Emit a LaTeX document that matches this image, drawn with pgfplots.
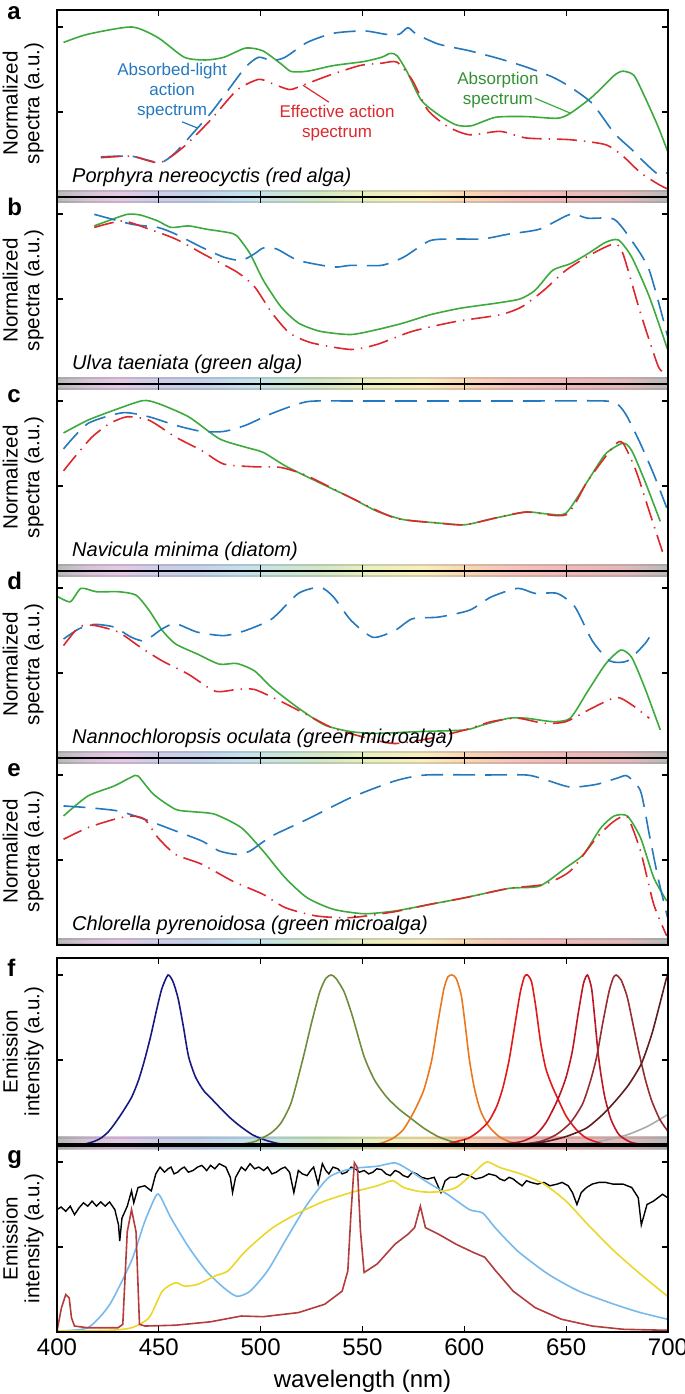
\documentclass[border=0pt]{standalone}
\usepackage{fontspec}
\setmainfont{Liberation Sans}
\usepackage{pgfplots}
\pgfplotsset{compat=1.18}

\definecolor{cblue}{RGB}{35,120,190}
\definecolor{cred}{RGB}{220,40,45}
\definecolor{cgreen}{RGB}{60,170,60}
\definecolor{fnavy}{RGB}{25,25,130}
\definecolor{folive}{RGB}{110,140,60}
\definecolor{forange}{RGB}{235,120,30}
\definecolor{fred}{RGB}{225,25,25}
\definecolor{fdred}{RGB}{190,20,35}
\definecolor{fbred}{RGB}{150,45,50}
\definecolor{fbrown}{RGB}{95,30,30}
\definecolor{fgrey}{RGB}{170,170,170}
\definecolor{gsky}{RGB}{120,185,235}
\definecolor{gyellow}{RGB}{235,215,40}
\definecolor{gbrown}{RGB}{180,60,60}

% pastel spectrum strip (400 nm at 25bp, 700 nm at 75bp)
\definecolor{sb0}{RGB}{185,185,185}
\definecolor{sb1}{RGB}{215,195,215}
\definecolor{sb2}{RGB}{230,200,230}
\definecolor{sb3}{RGB}{205,205,235}
\definecolor{sb4}{RGB}{195,210,235}
\definecolor{sb5}{RGB}{195,225,240}
\definecolor{sb6}{RGB}{200,230,220}
\definecolor{sb7}{RGB}{210,232,195}
\definecolor{sb8}{RGB}{235,240,190}
\definecolor{sb9}{RGB}{250,238,190}
\definecolor{sb10}{RGB}{250,215,180}
\definecolor{sb11}{RGB}{245,195,185}
\definecolor{sb12}{RGB}{240,185,185}
\definecolor{sb13}{RGB}{225,185,185}
\pgfdeclarehorizontalshading{specbar}{100bp}{color(0bp)=(sb0); color(25bp)=(sb0);
  color(27.5bp)=(sb1); color(30bp)=(sb2); color(33.33bp)=(sb3); color(36.67bp)=(sb4);
  color(40bp)=(sb5); color(43.33bp)=(sb6); color(46.67bp)=(sb7); color(50.83bp)=(sb8);
  color(55bp)=(sb9); color(58.33bp)=(sb10); color(62.5bp)=(sb11); color(66.67bp)=(sb12);
  color(71.67bp)=(sb13); color(75bp)=(sb0); color(100bp)=(sb0)}

\newcommand{\specbar}[2]{%
  \shade[shading=specbar] (axis cs:400,#1) rectangle (axis cs:700,#2);
  \fill[gray,opacity=0.3] (axis cs:400,#1) rectangle (axis cs:700,{#1+0.013});
  \fill[gray,opacity=0.3] (axis cs:400,{#2-0.013}) rectangle (axis cs:700,#2);}

\tikzset{
  absorp/.style={cgreen, line width=0.8pt, smooth, tension=0.4},
  alas/.style={cblue, line width=0.8pt, smooth, tension=0.4, dash pattern=on 11pt off 5pt},
  eas/.style={cred, line width=0.8pt, smooth, tension=0.4, dash pattern=on 10pt off 3.5pt on 0.7pt off 3.5pt},
  emis/.style={line width=0.8pt, smooth, tension=0.4},
  species/.style={anchor=base west, font=\itshape\fontsize{10}{12}\selectfont},
  plabel/.style={anchor=base west, inner sep=0pt, font=\bfseries\fontsize{12}{14}\selectfont, xshift=-25pt, yshift=-9.5pt},
  annot/.style={align=center, font=\fontsize{8.5}{10}\selectfont},
}

\pgfplotsset{
  panel/.style={
    scale only axis, width=305.5pt, height=93.5pt, anchor=south west,
    xmin=400, xmax=700, ymin=0, ymax=1.1,
    xtick={450,500,550,600,650}, xticklabels={},
    ytick={0.5,1}, yticklabels={},
    tick align=inside, tick pos=both, major tick length=3pt,
    clip=false, axis on top,
    axis line style={line width=0.8pt},
    every tick/.style={black, line width=0.6pt},
    ylabel style={at={(rel axis cs:-0.0213,0.5)}, anchor=south, align=center, inner sep=0pt,
      font=\fontsize{10.3}{10.8}\selectfont},
  },
}

\begin{document}
\begin{tikzpicture}

% ---------- a ----------
\begin{axis}[panel, at={(0pt,567.5pt)}, ylabel={Normalized\\spectra (a.u.)}]
\specbar{-0.035}{0.04}
\addplot[absorp] coordinates {(403.2,0.909)(415,0.957)(436.6,1.0)(449.5,0.938)(462.5,0.822)(473,0.806)(482,0.822)(492.6,0.876)(501,0.860)(510,0.783)(515,0.738)(523,0.740)(535.7,0.773)(550.8,0.797)(559.4,0.822)(563.7,0.845)(567,0.831)(572,0.734)(578.8,0.570)(587.4,0.483)(596,0.424)(603.5,0.419)(615.4,0.469)(630.5,0.473)(645.6,0.463)(652,0.492)(662.8,0.589)(673.6,0.715)(677.9,0.740)(683.3,0.715)(688.6,0.589)(695.1,0.415)(699.8,0.269)};
\addplot[alas] coordinates {(421.5,0.236)(436.6,0.240)(450.6,0.202)(458,0.260)(466.8,0.376)(475.4,0.492)(484,0.628)(492.6,0.764)(499,0.822)(505.6,0.802)(512,0.822)(522.8,0.909)(535.7,0.963)(550.8,0.977)(561.5,0.957)(568,0.957)(572.3,0.996)(576.6,0.957)(587.4,0.899)(602.5,0.860)(617.6,0.812)(630.5,0.764)(643.4,0.705)(652,0.647)(662.8,0.550)(673.6,0.376)(682.2,0.279)(688.6,0.202)(695.1,0.134)(699.8,0.143)};
\addplot[eas] coordinates {(421.5,0.231)(436.6,0.240)(450.6,0.202)(462.5,0.298)(475.4,0.453)(488.3,0.628)(499,0.692)(505.6,0.667)(514.2,0.632)(520.6,0.657)(533.5,0.715)(548.6,0.773)(559.4,0.787)(567,0.793)(574.5,0.686)(582,0.512)(591.7,0.415)(602.5,0.366)(617.6,0.386)(630.5,0.347)(652,0.337)(669.3,0.308)(677.9,0.240)(686.5,0.143)(695.1,0.076)(699.8,0.047)};
\node[annot, cblue] at (axis cs:456.5,0.622) {Absorbed-light\\action\\spectrum};
\draw[cblue, line width=0.6pt] (axis cs:461.4,0.442) -- (axis cs:468.7,0.407);
\node[annot, cred] at (axis cs:537.5,0.436) {Effective action\\spectrum};
\draw[cred, line width=0.6pt] (axis cs:520.8,0.657) -- (axis cs:533.5,0.558);
\node[annot, cgreen!85!black] at (axis cs:616.5,0.628) {Absorption\\spectrum};
\draw[cgreen, line width=0.6pt] (axis cs:634.7,0.581) -- (axis cs:651.9,0.494);
\node[species] at (axis cs:404,0.085) {Porphyra nereocyctis (red alga)};
\node[plabel, yshift=4.5pt] at (rel axis cs:0,1) {a};
\end{axis}

% ---------- b ----------
\begin{axis}[panel, at={(0pt,474pt)}, ylabel={Normalized\\spectra (a.u.)}]
\specbar{-0.035}{0.04}
\addplot[absorp] coordinates {(418.3,0.930)(425.8,0.963)(434.5,0.998)(440.9,0.994)(449.5,0.959)(456,0.921)(464.6,0.930)(473.2,0.911)(484,0.891)(488.3,0.872)(494.8,0.766)(501.3,0.610)(509.9,0.455)(518.5,0.359)(529.2,0.310)(544.3,0.291)(557.2,0.320)(570.2,0.359)(583.1,0.407)(598.2,0.446)(615.4,0.475)(627.3,0.500)(634.8,0.552)(643.4,0.669)(652,0.707)(660.6,0.766)(669.3,0.833)(675.7,0.847)(682.2,0.746)(690.8,0.514)(699.8,0.203)};
\addplot[alas] coordinates {(418.3,0.998)(436.6,0.940)(449.5,0.921)(458.2,0.882)(471.1,0.804)(481.9,0.746)(490.5,0.727)(497,0.766)(501.3,0.800)(507.7,0.795)(518.5,0.727)(535.7,0.688)(544.3,0.698)(559.4,0.698)(570.2,0.746)(583.1,0.843)(596,0.853)(609,0.853)(621.9,0.882)(637,0.911)(652,0.998)(660.6,0.975)(673.5,0.969)(682.2,0.843)(690.8,0.669)(699.8,0.281)};
\addplot[eas] coordinates {(418.3,0.921)(432.3,0.959)(445.2,0.911)(458.2,0.853)(473.2,0.756)(488.3,0.659)(497,0.572)(505.6,0.417)(514.2,0.300)(525,0.242)(544.3,0.203)(557.2,0.233)(574.5,0.310)(596,0.368)(617.6,0.407)(628.4,0.455)(639.1,0.552)(649.9,0.669)(662.8,0.766)(673.6,0.824)(677.9,0.766)(686.5,0.417)(695.1,0.107)(698.3,0.068)};
\node[species] at (axis cs:404,0.085) {Ulva taeniata (green alga)};
\node[plabel] at (rel axis cs:0,1) {b};
\end{axis}

% ---------- c ----------
\begin{axis}[panel, at={(0pt,380.5pt)}, ylabel={Normalized\\spectra (a.u.)}]
\specbar{-0.035}{0.04}
\addplot[absorp] coordinates {(403.2,0.812)(415.1,0.887)(428,0.946)(442,1.002)(449.5,0.986)(464.6,0.907)(479.7,0.778)(492.6,0.728)(501.2,0.698)(512,0.619)(527,0.530)(544.3,0.431)(557.2,0.351)(570.2,0.302)(587.4,0.282)(600.3,0.272)(615.4,0.312)(630.5,0.347)(641.3,0.335)(650,0.341)(660.6,0.530)(669.3,0.688)(677.9,0.752)(682.2,0.708)(688.6,0.530)(696.2,0.292)};
\addplot[alas] coordinates {(403.2,0.718)(415.1,0.867)(432.3,0.931)(445.2,0.907)(458.2,0.857)(471.1,0.821)(481.9,0.821)(492.6,0.857)(505.6,0.927)(522.8,0.996)(544.3,1.0)(587.4,1.0)(630.5,1.0)(669.3,1.0)(675.7,0.976)(680,0.907)(686.5,0.748)(693,0.569)(699.4,0.371)};
\addplot[eas] coordinates {(403.2,0.589)(408.6,0.669)(417.2,0.788)(425.8,0.867)(434.5,0.907)(445.2,0.887)(458.2,0.788)(471.1,0.708)(481.9,0.629)(497,0.613)(509.9,0.609)(522.8,0.560)(544.3,0.431)(565.9,0.312)(587.4,0.282)(600.3,0.272)(615.4,0.312)(630.5,0.347)(650,0.331)(660.6,0.530)(673.6,0.738)(677.9,0.752)(684.3,0.589)(690.8,0.351)(697.3,0.113)};
\node[species] at (axis cs:404,0.085) {Navicula minima (diatom)};
\node[plabel] at (rel axis cs:0,1) {c};
\end{axis}

% ---------- d ----------
\begin{axis}[panel, at={(0pt,287pt)}, ylabel={Normalized\\spectra (a.u.)}]
\specbar{-0.035}{0.04}
\addplot[absorp] coordinates {(400,0.952)(406.5,0.919)(411.8,0.998)(419.4,0.978)(430.2,0.978)(438.8,0.958)(445.2,0.869)(451.7,0.750)(458.2,0.671)(469,0.611)(479.7,0.552)(488.3,0.556)(497,0.512)(505.6,0.413)(518.5,0.294)(531.4,0.194)(544.3,0.155)(557.2,0.145)(576.6,0.155)(600.3,0.165)(609,0.194)(621.9,0.234)(630.5,0.234)(643.4,0.214)(652,0.234)(660.6,0.393)(669.3,0.552)(676.8,0.635)(682.2,0.591)(688.6,0.413)(696.2,0.165)};
\addplot[alas] coordinates {(403.2,0.700)(410.8,0.760)(418.3,0.786)(428,0.770)(436.6,0.710)(443.1,0.690)(451.7,0.760)(458.2,0.790)(469,0.740)(482,0.720)(492.6,0.750)(505.6,0.819)(518.5,0.968)(529.2,1.004)(535.7,0.948)(544.3,0.810)(555.1,0.710)(565.9,0.750)(574.5,0.819)(587.4,0.829)(602.5,0.869)(613.3,0.948)(626.2,0.998)(634.8,0.968)(645.6,0.968)(654.3,0.889)(662.8,0.690)(671.5,0.571)(680.1,0.571)(688.6,0.671)(690.8,0.710)};
\addplot[eas] coordinates {(403.2,0.661)(410.8,0.770)(418.3,0.780)(430.2,0.740)(441,0.651)(451.7,0.571)(464.6,0.492)(477.6,0.393)(488.3,0.403)(497,0.403)(509.9,0.333)(522.8,0.254)(535.7,0.175)(553,0.115)(565.9,0.085)(583.1,0.115)(600.3,0.165)(613.3,0.214)(626.2,0.234)(639.1,0.204)(649.9,0.214)(662.8,0.294)(674.7,0.357)(682.2,0.313)(690.8,0.234)};
\node[species] at (axis cs:404,0.085) {Nannochloropsis oculata (green microalga)};
\node[plabel] at (rel axis cs:0,1) {d};
\end{axis}

% ---------- e ----------
\begin{axis}[panel, at={(0pt,193.5pt)}, ylabel={Normalized\\spectra (a.u.)}]
\specbar{0}{0.04}
\addplot[absorp] coordinates {(403.2,0.759)(415.1,0.876)(428,0.935)(436.6,0.988)(439.8,0.994)(447.4,0.886)(458.2,0.798)(466.8,0.784)(477.5,0.769)(490.5,0.690)(501.2,0.553)(512,0.396)(522.8,0.278)(535.7,0.210)(550.8,0.184)(565.9,0.200)(583.1,0.239)(600.3,0.278)(621.9,0.333)(637,0.347)(649.9,0.455)(658.5,0.533)(667.1,0.690)(673.6,0.759)(680,0.759)(686.5,0.631)(693,0.396)(699.4,0.259)};
\addplot[alas] coordinates {(403.2,0.818)(415.1,0.808)(430.2,0.788)(443.1,0.739)(458.2,0.671)(471.1,0.612)(479.7,0.553)(488.3,0.533)(494.8,0.553)(505.5,0.641)(522.8,0.739)(544.3,0.867)(565.9,0.965)(581,1.0)(609,1.0)(630.5,1.0)(639.1,0.975)(652,0.929)(664.9,0.945)(675.7,0.984)(680,0.994)(686.5,0.906)(690.8,0.651)(695.1,0.396)(699.8,0.161)};
\addplot[eas] coordinates {(403.2,0.622)(415.1,0.690)(428,0.739)(436.6,0.759)(443.1,0.739)(449.6,0.631)(458.2,0.533)(471.1,0.475)(486.2,0.376)(501.2,0.298)(512,0.220)(527.2,0.171)(544.3,0.161)(565.9,0.196)(583.1,0.239)(600.3,0.278)(621.9,0.333)(639.1,0.357)(652,0.435)(664.9,0.631)(673.6,0.729)(680,0.753)(686.5,0.553)(693,0.239)(699.4,0.053)};
\node[species] at (axis cs:404,0.085) {Chlorella pyrenoidosa (green microalga)};
\node[plabel] at (rel axis cs:0,1) {e};
\end{axis}

% ---------- f ----------
\begin{axis}[panel, at={(0pt,93.5pt)}, ylabel={Emission\\intensity (a.u.)}]
\specbar{-0.025}{0.05}
\addplot[emis, fgrey] coordinates {(645,0)(660,0.01)(670,0.03)(680,0.06)(690,0.11)(700,0.18)};
\addplot[emis, fnavy] coordinates {(412,0)(418,0.02)(421.5,0.04)(425,0.075)(428,0.12)(432,0.19)(436.6,0.28)(440,0.38)(443,0.5)(446,0.64)(449,0.8)(451.5,0.92)(454.5,1.0)(457,0.96)(459.5,0.86)(462,0.7)(464.6,0.52)(468,0.4)(472,0.32)(476,0.27)(480,0.22)(485,0.16)(490,0.11)(496,0.06)(502,0.03)(508,0.01)(514,0)};
\addplot[emis, folive] coordinates {(488,0)(497,0.02)(505,0.07)(510,0.13)(515,0.25)(520.6,0.5)(525,0.72)(529,0.9)(532,0.98)(534.6,1.0)(537,0.98)(541,0.9)(545,0.76)(550.8,0.52)(556,0.38)(562,0.28)(568,0.21)(573.4,0.16)(580,0.1)(587,0.05)(594,0.02)(600,0.005)};
\addplot[emis, forange] coordinates {(552,0)(559,0.01)(565,0.04)(570,0.09)(575,0.19)(580,0.32)(584,0.5)(587,0.72)(590,0.92)(592,0.99)(594,1.0)(596,0.98)(598.5,0.88)(600.5,0.7)(602.5,0.5)(605,0.33)(608,0.2)(612,0.11)(617,0.05)(622,0.02)(628,0)};
\addplot[emis, fred] coordinates {(590,0)(596,0.02)(602,0.04)(607,0.08)(612,0.14)(616,0.23)(619,0.34)(622,0.5)(625,0.72)(627.5,0.9)(629.5,0.99)(631,1.0)(633,0.96)(635,0.82)(637.5,0.6)(640,0.45)(643,0.35)(646,0.27)(650,0.17)(655,0.09)(660,0.04)(667,0.01)(672,0)};
\addplot[emis, fdred] coordinates {(615,0)(628,0.02)(635,0.06)(640,0.13)(644,0.22)(647,0.3)(650,0.4)(653,0.55)(656,0.78)(658.5,0.95)(660.5,1.0)(662.5,0.92)(664,0.75)(665.6,0.55)(667,0.42)(669,0.28)(672,0.15)(676,0.06)(682,0.015)(690,0)};
\addplot[emis, fbred] coordinates {(625,0)(637,0.02)(645,0.06)(652,0.13)(658,0.24)(662,0.38)(665,0.52)(668,0.72)(671,0.9)(673,0.98)(674.5,1.0)(677,0.97)(680,0.87)(683,0.7)(686,0.53)(689,0.38)(692,0.26)(696,0.15)(700,0.08)};
\addplot[emis, fbrown] coordinates {(630,0)(640,0.02)(650,0.05)(660,0.1)(668,0.18)(675,0.27)(681,0.36)(687,0.48)(692,0.65)(696,0.83)(699,0.97)(700,1.0)};
\node[plabel] at (rel axis cs:0,1) {f};
\end{axis}

% ---------- g ----------
\begin{axis}[panel, at={(0pt,0pt)}, ylabel={Emission\\intensity (a.u.)},
  xtick={400,450,500,550,600,650,700}, xticklabels={400,450,500,550,600,650,700},
  xticklabel style={font=\fontsize{12}{14}\selectfont},
  xlabel={wavelength (nm)}, xlabel style={font=\fontsize{12}{14}\selectfont}]
\addplot[black, line width=0.7pt] coordinates {(400,0.72)(402,0.735)(404.3,0.71)(406.5,0.74)(408.6,0.69)(410.8,0.73)(413,0.76)(415.1,0.74)(417.2,0.77)(419.4,0.74)(421.5,0.765)(423.7,0.74)(425.8,0.765)(428.4,0.72)(430.2,0.63)(430.8,0.535)(431.9,0.67)(434.5,0.74)(436.6,0.83)(437.7,0.76)(439.8,0.85)(443.1,0.86)(446.3,0.83)(448.5,0.93)(450.6,0.97)(452.8,0.94)(454.5,0.96)(456,0.97)(457.5,0.93)(459.2,0.94)(461,0.96)(462.5,0.97)(464.5,0.94)(466.8,0.95)(469,0.97)(471.1,0.98)(473.5,0.95)(475.4,0.98)(477.5,0.96)(479.7,0.99)(482.9,0.97)(485.1,0.91)(486.2,0.82)(487.7,0.91)(490.5,0.97)(492.5,0.95)(494.8,0.99)(497,0.96)(499.1,0.97)(501.5,0.95)(503.4,0.97)(505.5,0.93)(507.7,0.94)(510,0.96)(512,0.97)(514.2,0.94)(516.3,0.82)(518.5,0.95)(520.5,0.93)(522.8,0.92)(524.5,0.95)(526,0.97)(528.2,0.87)(530.3,0.99)(532,0.95)(533.5,0.93)(535.5,0.97)(537.9,0.96)(540,0.93)(542.2,0.94)(544.5,0.97)(546.5,0.96)(548.5,0.94)(550.8,0.95)(553,0.93)(555.1,0.94)(557,0.96)(559.4,0.955)(561.5,0.93)(563.7,0.92)(566,0.95)(568,0.94)(570,0.92)(572.3,0.91)(574.5,0.94)(576.6,0.93)(579,0.91)(582,0.90)(585.2,0.91)(588.5,0.82)(590.6,0.89)(593,0.91)(596,0.91)(599,0.93)(602.5,0.92)(605.5,0.90)(608.9,0.91)(612,0.93)(615.4,0.92)(617.5,0.90)(619.7,0.89)(622,0.91)(624,0.90)(626,0.88)(628.4,0.86)(630.5,0.89)(632.7,0.88)(636,0.87)(639.1,0.88)(642,0.86)(645.6,0.87)(648,0.88)(651,0.86)(653.1,0.82)(655.3,0.75)(657.4,0.82)(660,0.85)(662.8,0.87)(666,0.88)(669.3,0.88)(673,0.87)(677.9,0.87)(682.2,0.85)(685.4,0.79)(686.9,0.63)(689.7,0.75)(692.9,0.77)(695.1,0.79)(697.3,0.81)(699.8,0.79)};
\addplot[emis, gsky] coordinates {(400,0.006)(415.1,0.025)(425.8,0.16)(436.6,0.42)(443.1,0.65)(448.5,0.80)(450.6,0.80)(456,0.67)(464.6,0.50)(473.2,0.36)(481.9,0.26)(488.3,0.21)(494.8,0.24)(503.4,0.36)(512,0.535)(522.8,0.75)(533.5,0.91)(544.3,0.96)(557.2,0.975)(565.9,0.995)(572.3,0.957)(580.9,0.888)(591.7,0.81)(602.5,0.72)(609,0.70)(615.4,0.61)(626.2,0.476)(641.2,0.34)(656.3,0.24)(673.6,0.163)(686.5,0.114)(699.8,0.075)};
\addplot[emis, gyellow] coordinates {(400,0.006)(425.8,0.01)(436.6,0.025)(445.2,0.084)(451.7,0.24)(458.2,0.29)(462.5,0.27)(469,0.28)(477.6,0.33)(484,0.36)(492.6,0.476)(505.5,0.61)(518.5,0.70)(531.4,0.77)(544.3,0.82)(557.2,0.86)(564.8,0.89)(570.2,0.85)(578.8,0.825)(587.4,0.825)(596,0.85)(604.6,0.937)(611,1.0)(617.6,0.967)(628.4,0.927)(639.1,0.87)(649.9,0.77)(660.6,0.633)(673.6,0.476)(686.5,0.34)(699.8,0.21)};
\addplot[gbrown, line width=0.8pt] coordinates {(400,0.006)(402.2,0.143)(404.3,0.22)(406,0.20)(407.1,0.084)(408.6,0.035)(415,0.025)(430,0.025)(432.3,0.045)(434.5,0.59)(436.6,0.72)(438.8,0.59)(440.5,0.045)(443.1,0.035)(458.2,0.04)(475.4,0.06)(490.5,0.094)(501.2,0.09)(518.5,0.114)(531.4,0.163)(540,0.24)(542.8,0.36)(544.3,0.69)(546,0.996)(547.5,0.967)(549,0.594)(550.8,0.35)(557.2,0.40)(565.9,0.516)(572.3,0.575)(575.6,0.614)(578.4,0.74)(580.9,0.614)(587.4,0.575)(596,0.516)(604.6,0.467)(610,0.44)(615.4,0.36)(624,0.24)(634.8,0.143)(647.7,0.075)(662.8,0.035)(677.9,0.016)(699.8,0.01)};
\draw[line width=1.6pt] (rel axis cs:0,1) -- (rel axis cs:1,1);
\node[plabel] at (rel axis cs:0,1) {g};
\end{axis}

\pgfresetboundingbox
\path[use as bounding box] (-28.5pt,-31pt) rectangle (314pt,666pt);
\end{tikzpicture}
\end{document}
